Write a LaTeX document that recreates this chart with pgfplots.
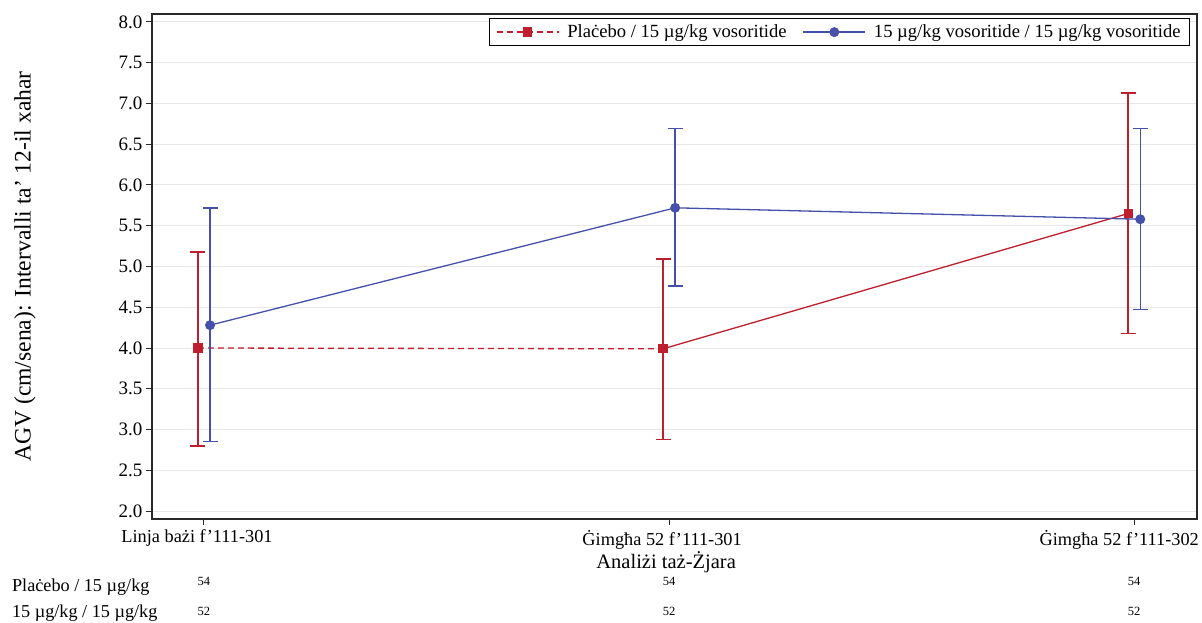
\documentclass[border=0pt]{standalone}
\usepackage{fontspec}
\setmainfont{Liberation Serif}
\usepackage{pgfplots}
\pgfplotsset{compat=1.18}
\definecolor{cred}{RGB}{190,30,45}
\definecolor{cblue}{RGB}{68,80,170}
\definecolor{cgrid}{RGB}{232,232,232}
\definecolor{caxis}{RGB}{40,40,40}
\begin{document}
\begin{tikzpicture}
\begin{axis}[
  at={(0,0)}, anchor=south west,
  scale only axis, width=1045pt, height=505pt,
  xmin=-0.1118, xmax=2.135,
  ymin=1.902, ymax=8.098,
  xtick={0,1,2},
  xticklabels={Linja bażi f’111-301, Ġimgħa 52 f’111-301, \hspace*{-16pt}Ġimgħa 52 f’111-302},
  ytick={2,2.5,...,8},
  yticklabel style={/pgf/number format/.cd, fixed, fixed zerofill, precision=1},
  /pgf/number format/assume math mode=true,
  tick label style={font=\fontsize{19}{22}\selectfont},
  xticklabel style={font=\fontsize{18.3}{21}\selectfont, xshift=-7pt, yshift=-1.5pt},
  tick align=outside, tick pos=left,
  major tick length=6pt,
  every tick/.style={caxis, line width=1pt},
  axis line style={caxis, line width=1.2pt},
  ymajorgrids, major grid style={cgrid, line width=1pt},
  xlabel={Analiżi taż-Żjara},
  ylabel={AGV (cm/sena): Intervalli ta’ 12-il xahar},
  x label style={font=\fontsize{20.5}{24}\selectfont, at={(axis description cs:0.492,-0.0861)}, anchor=center},
  y label style={font=\fontsize{23.6}{26}\selectfont, at={(axis description cs:-0.1215,0.5)}, anchor=center},
  clip=false,
  legend columns=2,
  legend style={at={(axis description cs:0.9933,0.992)}, anchor=north east,
    font=\fontsize{18.6}{21}\selectfont, draw=black, line width=0.8pt, inner xsep=7pt, inner ysep=4.5pt,
    /tikz/every odd column/.append style={column sep=6pt},
    /tikz/every even column/.append style={column sep=14pt}},
  legend image code/.code={\draw[mark repeat=2,mark phase=2] plot coordinates {(0pt,0pt) (31pt,0pt) (62pt,0pt)};},
]
% red connecting lines
\addplot[cred, line width=1.3pt, dash pattern=on 6pt off 4pt, forget plot] coordinates {(-0.013,4.00) (0.987,3.99)};
\addplot[cred, line width=1.3pt, forget plot] coordinates {(0.987,3.99) (1.987,5.65)};
% red marks with error bars
\addplot[cred, line width=1.3pt, only marks, mark=square*, mark size=4pt, forget plot,
  error bars/.cd, y dir=both, y explicit, error mark=|,
  error mark options={mark size=7.5pt, line width=1.4pt, cred},
  error bar style={line width=1.4pt, cred, solid}]
  table[x=x, y=y, y error plus=ep, y error minus=em] {
  x      y     ep    em
  -0.013 4.00  1.18  1.20
  0.987  3.99  1.10  1.11
  1.987  5.65  1.48  1.47
  };
% blue line with marks and error bars
\addplot[cblue, line width=1.3pt, mark=*, mark size=4.3pt, forget plot,
  error bars/.cd, y dir=both, y explicit, error mark=|,
  error mark options={mark size=7.5pt, line width=1.4pt, cblue},
  error bar style={line width=1.4pt, cblue}]
  table[x=x, y=y, y error plus=ep, y error minus=em] {
  x      y     ep    em
  0.013  4.28  1.44  1.43
  1.013  5.72  0.97  0.96
  2.013  5.58  1.11  1.11
  };
\addlegendimage{cred, line width=1.3pt, dash pattern=on 6pt off 4pt, mark=square*, mark size=4pt, mark options={solid}}
\addlegendentry{Plaċebo / 15 µg/kg vosoritide}
\addlegendimage{cblue, line width=1.3pt, mark=*, mark size=4.3pt}
\addlegendentry{15 µg/kg vosoritide / 15 µg/kg vosoritide}
% at-risk style table below
\node[anchor=west, inner sep=0pt, font=\fontsize{18.2}{21}\selectfont] at (axis cs:-0.413,1.067) {Plaċebo / 15 µg/kg};
\node[anchor=west, inner sep=0pt, font=\fontsize{18.2}{21}\selectfont] at (axis cs:-0.413,0.748) {15 µg/kg / 15 µg/kg};
\node[font=\fontsize{12.5}{14}\selectfont] at (axis cs:0,1.141) {54};
\node[font=\fontsize{12.5}{14}\selectfont] at (axis cs:1,1.141) {54};
\node[font=\fontsize{12.5}{14}\selectfont] at (axis cs:2,1.141) {54};
\node[font=\fontsize{12.5}{14}\selectfont] at (axis cs:0,0.773) {52};
\node[font=\fontsize{12.5}{14}\selectfont] at (axis cs:1,0.773) {52};
\node[font=\fontsize{12.5}{14}\selectfont] at (axis cs:2,0.773) {52};
\end{axis}
\pgfresetboundingbox
\path[use as bounding box] (-152pt,-103pt) rectangle (1050pt,519pt);
\end{tikzpicture}
\end{document}
